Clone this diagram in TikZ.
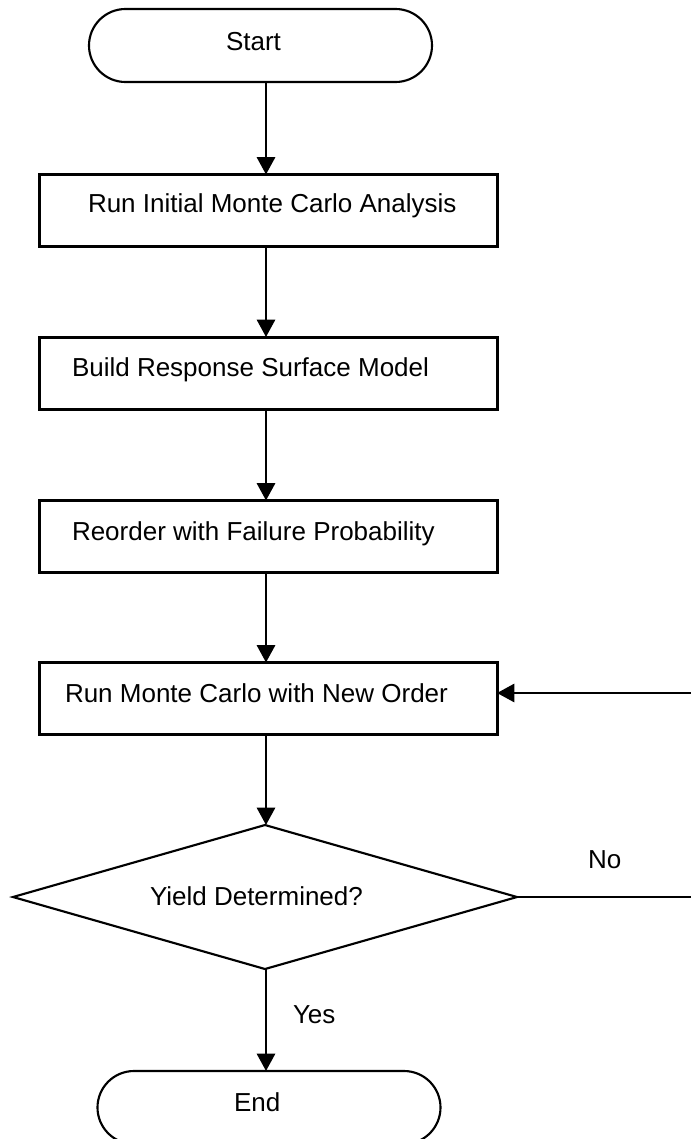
\documentclass[tikz,border=0pt]{standalone}
\usepackage{fontspec}
\setmainfont{Liberation Sans}
\usetikzlibrary{shapes.geometric,shapes.misc,arrows.meta}
\begin{document}
\begin{tikzpicture}[x=0.75pt,y=-0.75pt,
  lbl/.style={font=\fontsize{19.5pt}{23pt}\selectfont, inner sep=0pt, outer sep=0pt, anchor=base west},
  procbox/.style={draw, line width=2.25pt, rectangle, inner sep=0pt, outer sep=0pt,
    minimum width=458*0.75pt, minimum height=72*0.75pt},
  termbox/.style={draw, line width=1.6pt, rounded rectangle, inner sep=0pt, outer sep=0pt,
    minimum width=343*0.75pt, minimum height=73*0.75pt},
  decbox/.style={draw, line width=1.6pt, diamond, inner sep=0pt, outer sep=0pt,
    minimum width=504*0.75pt, minimum height=144*0.75pt},
  arr/.style={line width=2.2pt, -{Triangle[length=13pt,width=13.5pt]}},
  conn/.style={line width=2.2pt}]
\useasboundingbox (0,0) rectangle (690,1139);

\node[termbox] (start) at (260.5,45.5) {};
\node[procbox] (b1) at (268,210.5) {};
\node[procbox] (b2) at (268,373) {};
\node[procbox] (b3) at (268,536.5) {};
\node[procbox] (b4) at (268,698.5) {};
\node[decbox] (dec) at (265,897) {};
\node[termbox] (end) at (269,1107.5) {};

\node[lbl] (tstart) at (226,50) {Start};
\node[lbl] (t1) at (88,212) {Run Initial Monte Carlo Analysis};
\node[lbl] (t2) at (72,376) {Build Response Surface Model};
\node[lbl] (t3) at (72,540) {Reorder with Failure Probability};
\node[lbl] (t4) at (65,702) {Run Monte Carlo with New Order};
\node[lbl] (tdec) at (150,905) {Yield Determined?};
\node[lbl] (tend) at (234,1111) {End};
\node[lbl] (tyes) at (293,1023) {Yes};
\node[lbl] (tno) at (588,868) {No};

\coordinate (col) at (266,0);
\coordinate (r1) at (691,897);
\coordinate (r2) at (691,693);

\draw[arr] (start.south -| col) -- (b1.north -| col);
\draw[arr] (b1.south -| col) -- (b2.north -| col);
\draw[arr] (b2.south -| col) -- (b3.north -| col);
\draw[arr] (b3.south -| col) -- (b4.north -| col);
\draw[arr] (b4.south -| col) -- (dec.north -| col);
\draw[arr] (dec.south -| col) -- (end.north -| col);
\draw[conn] (dec.east) -- (r1);
\draw[arr] (r2) -- (r2 -| b4.east);
\end{tikzpicture}
\end{document}
